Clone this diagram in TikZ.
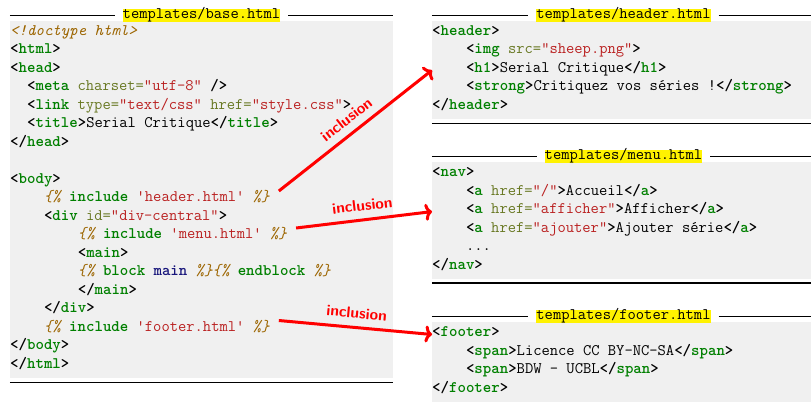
\documentclass[tikz,border=0pt]{standalone}
\usepackage{tikz}
\usetikzlibrary{matrix}
\usetikzlibrary{arrows.meta}
\usetikzlibrary{positioning}
\usetikzlibrary{fit}
\usetikzlibrary{backgrounds}
\definecolor{codegray}{HTML}{F0F0F0}
\definecolor{tagcol}{HTML}{008000}
\definecolor{attcol}{HTML}{687822}
\definecolor{strcol}{HTML}{BA2121}
\definecolor{tplcol}{HTML}{9C6500}
\definecolor{varcol}{HTML}{19177C}
\newcommand{\codefont}{\fontsize{16.1}{18.5}\selectfont\ttfamily}
\newcommand{\otag}[1]{\textbf{<\textcolor{tagcol}{#1}}}
\newcommand{\ctag}[1]{\textbf{</\textcolor{tagcol}{#1}>}}
\newcommand{\gtb}{\textbf{>}}
\newcommand{\atv}[2]{ \textcolor{attcol}{#1=}\textcolor{strcol}{\textquotedbl#2\textquotedbl}}
\newcommand{\sq}[1]{\textcolor{strcol}{\textquotesingle#1\textquotesingle}}
\newcommand{\tpl}[1]{\textcolor{tplcol}{\itshape#1}}
\newcommand{\kw}[1]{\textcolor{tagcol}{\bfseries#1}}
\newcommand{\vname}[1]{\textcolor{varcol}{\bfseries#1}}
\newcommand{\ind}[1]{\hspace*{\dimexpr0.525em*#1\relax}}
\tikzset{
  code/.style={matrix of nodes, inner xsep=0pt, inner ysep=3.5pt,
    row sep={18.5pt,between origins}, nodes in empty cells,
    nodes={anchor=base west, inner sep=0pt, text height=10.5pt, text depth=6.5pt, font=\codefont}},
  codebg/.style={fill=codegray, inner sep=0pt},
  fname/.style={fill=yellow, inner sep=0pt, outer xsep=8pt, outer ysep=0pt,
    text height=9.5pt, text depth=3.5pt, font=\codefont},
  rule/.style={draw=black, line width=1.2pt},
  incl/.style={draw=red, line width=3pt, -{To[length=7pt,width=17pt]}},
  lbl/.style={midway, sloped, above, inner sep=0pt, inner ysep=7.5pt, text=red,
    font=\sffamily\bfseries\fontsize{15.5}{15.5}\selectfont}
}
\begin{document}
\begin{tikzpicture}[x=1pt, y=-1pt]
  \useasboundingbox (0,0) rectangle (811,402);
  % Place the code listings
  \matrix[code, anchor=north west] (base) at (10,21) {
    \tpl{<!doctype html>}\\
    \otag{html}\gtb\\
    \otag{head}\gtb\\
    \ind{2}\otag{meta}\atv{charset}{utf-8} \textbf{/>}\\
    \ind{2}\otag{link}\atv{type}{text/css}\atv{href}{style.css}\gtb\\
    \ind{2}\otag{title}\gtb Serial Critique\ctag{title}\\
    \ctag{head}\\
    \\
    \otag{body}\gtb\\
    \ind{4}\tpl{\{\%} \kw{include} \sq{header.html} \tpl{\%\}}\\
    \ind{4}\otag{div}\atv{id}{div-central}\gtb\\
    \ind{8}\tpl{\{\%} \kw{include} \sq{menu.html} \tpl{\%\}}\\
    \ind{8}\otag{main}\gtb\\
    \ind{8}\tpl{\{\%} \kw{block} \vname{main} \tpl{\%\}\{\%} \kw{endblock} \tpl{\%\}}\\
    \ind{8}\ctag{main}\\
    \ind{4}\ctag{div}\\
    \ind{4}\tpl{\{\%} \kw{include} \sq{footer.html} \tpl{\%\}}\\
    \ctag{body}\\
    \ctag{html}\\
  };
  \matrix[code, anchor=north west] (header) at (432,21) {
    \otag{header}\gtb\\
    \ind{4}\otag{img}\atv{src}{sheep.png}\gtb\\
    \ind{4}\otag{h1}\gtb Serial Critique\ctag{h1}\\
    \ind{4}\otag{strong}\gtb Critiquez vos séries !\ctag{strong}\\
    \ctag{header}\\
  };
  \matrix[code, below=43pt of header.south west, anchor=north west] (menu) {
    \otag{nav}\gtb\\
    \ind{4}\otag{a}\atv{href}{/}\gtb Accueil\ctag{a}\\
    \ind{4}\otag{a}\atv{href}{afficher}\gtb Afficher\ctag{a}\\
    \ind{4}\otag{a}\atv{href}{ajouter}\gtb Ajouter série\ctag{a}\\
    \ind{4}...\\
    \ctag{nav}\\
  };
  \matrix[code, below=43pt of menu.south west, anchor=north west] (footer) {
    \otag{footer}\gtb\\
    \ind{4}\otag{span}\gtb Licence CC BY-NC-SA\ctag{span}\\
    \ind{4}\otag{span}\gtb BDW - UCBL\ctag{span}\\
    \ctag{footer}\\
  };
  % Gray backgrounds, file names and rules
  \begin{scope}[on background layer]
    \foreach \b in {base,header,menu,footer}{
      \coordinate (\b-se) at ([xshift=383pt]\b.south west);
      \node[codebg, fit=(\b.north west)(\b-se)] (\b-bg) {};
    }
  \end{scope}
  \foreach \b in {base,header,menu,footer}{
    \node[fname, above=-1pt of \b-bg] (\b-title) {templates/\b.html};
    \draw[rule] (\b-bg.north west |- \b-title.west) -- (\b-title.west)
                (\b-title.east) -- (\b-bg.north east |- \b-title.east)
                ([yshift=-3.5pt]\b-bg.south west) -- ([yshift=-3.5pt]\b-bg.south east);
  }
  % Draw inclusions
  \draw[incl] ([xshift=9pt]base-10-1.north east) -- node[lbl] {inclusion} (header-3-1.west);
  \draw[incl] ([xshift=9pt]base-12-1.north east) -- node[lbl] {inclusion} (menu-3-1.west);
  \draw[incl] ([xshift=9pt]base-17-1.north east) -- node[lbl] {inclusion} (footer-1-1.west);
\end{tikzpicture}
\end{document}
